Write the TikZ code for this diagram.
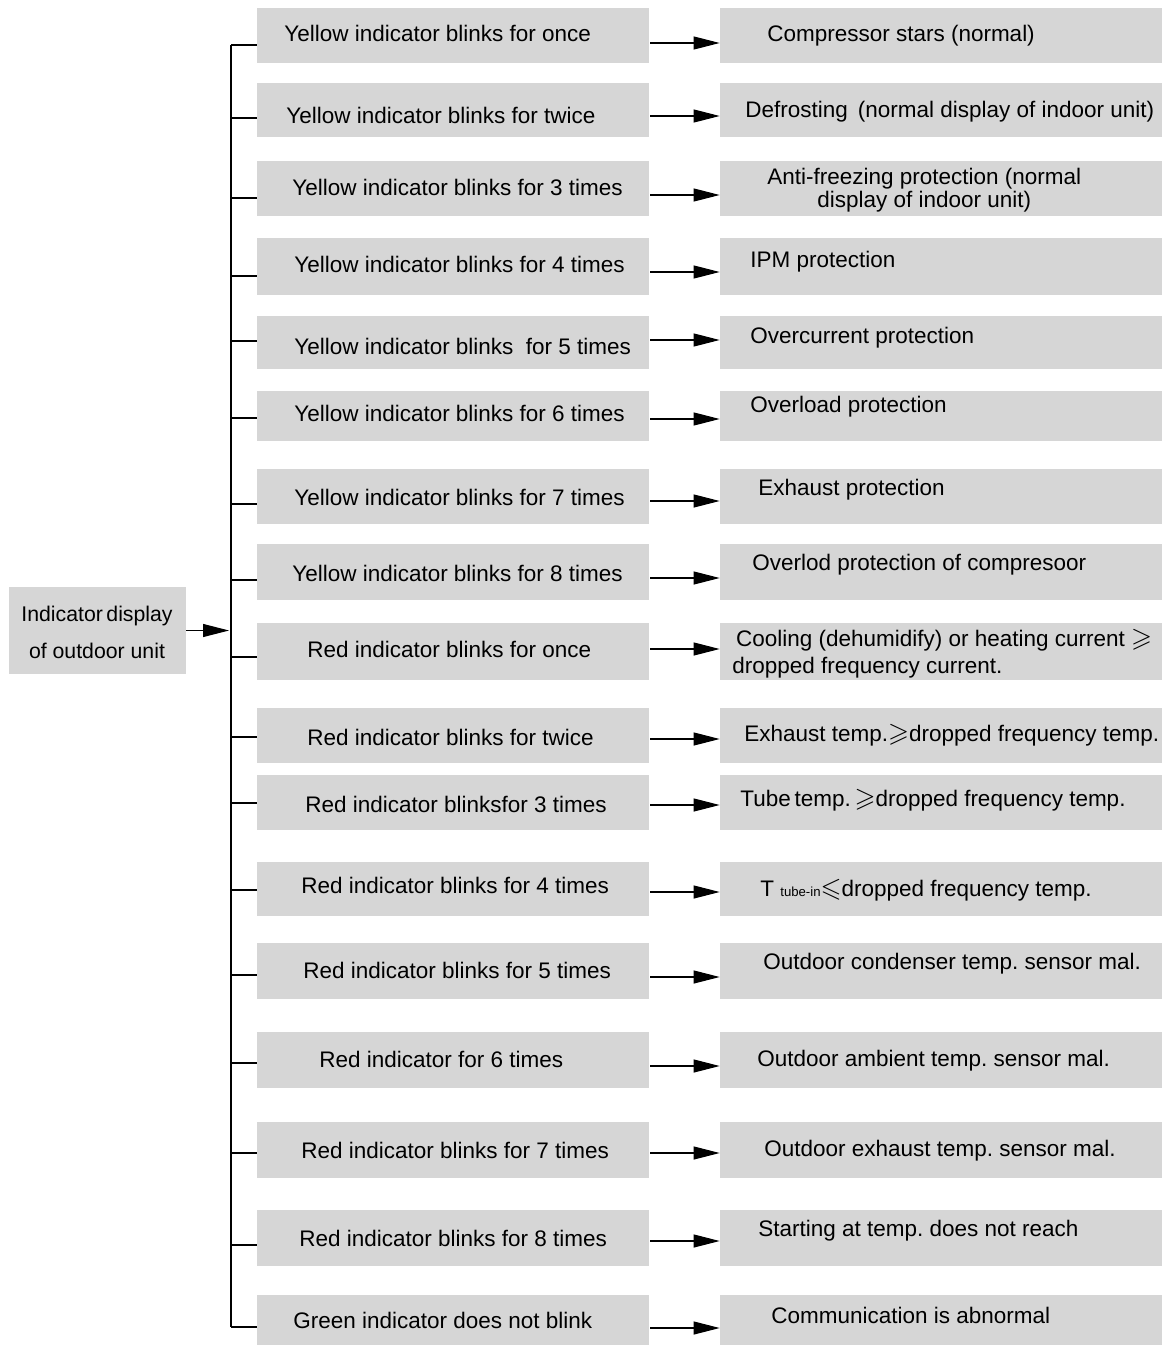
\documentclass[tikz,border=0pt]{standalone}
\usepackage{amssymb}
\usepackage{fontspec}
\setmainfont{Liberation Sans}
\usetikzlibrary{arrows.meta,fit}
\definecolor{boxgray}{RGB}{214,214,214}
\newcommand{\gesl}{\scalebox{1.2}{$\geqslant$}}
\newcommand{\lesl}{\scalebox{1.2}{$\leqslant$}}

\begin{document}
\begin{tikzpicture}[x=0.02cm, y=-0.02cm,
    box/.style={fill=boxgray, inner sep=0pt},
    txt/.style={anchor=west, inner sep=0pt, font=\fontsize{12.8}{15}\selectfont, text height=9pt, text depth=0pt},
    arr/.style={-{Triangle[length=0.52cm, width=0.26cm]}, line width=0.6pt},
    link/.style={line width=0.8pt}]
    \useasboundingbox (0,0) rectangle (1162,1345);

    % Source box on the left
    \node[box, fit={(9,587) (186,674)}] (src) {};
    \node[align=center, inner sep=0pt, font=\fontsize{12.1}{21}\selectfont] (srctext) at (97,632) {Indicator\,display\\of outdoor unit};
    \coordinate (hub) at (229,631);
    \draw[arr] (src.east) -- (src.east -| hub);

    % One row per blink code: boxes, texts, branch and arrow
    \foreach \i/\t/\b/\lx/\ly/\ltext/\rx/\ry/\rtext/\ay/\by in {
        1/8/63/284/34/{Yellow indicator blinks for once}/767/34/{Compressor stars (normal)}/43/45,
        2/83/137/286/116/{Yellow indicator blinks for twice}/745/110/{Defrosting\, (normal display of indoor unit)}/116/118,
        3/161/216/292/188/{Yellow indicator blinks for 3 times}/767/189/{\def\arraystretch{0.88}\begin{tabular}{@{}c@{}}Anti-freezing protection (normal\\display of indoor unit)\end{tabular}}/195/198,
        4/238/295/294/265/{Yellow indicator blinks for 4 times}/750/260/{IPM protection}/272/276,
        5/316/369/294/347/{Yellow indicator blinks~ for 5 times}/750/336/{Overcurrent protection}/340/341,
        6/391/441/294/414/{Yellow indicator blinks for 6 times}/750/405/{Overload protection}/419/418,
        7/469/524/294/498/{Yellow indicator blinks for 7 times}/758/488/{Exhaust protection}/501/504,
        8/544/600/292/574/{Yellow indicator blinks for 8 times}/752/563/{Overlod protection of compresoor}/578/580,
        9/623/680/307/650/{Red indicator blinks for once}/732/652/{\begin{tabular}{@{}l@{}}\,Cooling (dehumidify) or heating current \gesl\\dropped frequency current.\end{tabular}}/649/657,
        10/708/763/307/738/{Red indicator blinks for twice}/744/734/{Exhaust temp.\gesl dropped frequency temp.}/739/737,
        11/775/830/305/805/{Red indicator blinksfor 3 times}/740/799/{Tube\,temp.\,\gesl dropped frequency temp.}/805/803,
        12/862/916/301/886/{Red indicator blinks for 4 times}/760/889/{T {\fontsize{7.5}{8}\selectfont tube-in}\lesl dropped frequency temp.}/892/890,
        13/943/999/303/971/{Red indicator blinks for 5 times}/763/962/{Outdoor condenser temp.\ sensor mal.}/977/975,
        14/1032/1088/319/1060/{Red indicator for 6 times}/757/1059/{Outdoor ambient temp.\ sensor mal.}/1066/1063,
        15/1122/1178/301/1151/{Red indicator blinks for 7 times}/764/1149/{Outdoor exhaust temp.\ sensor mal.}/1153/1153,
        16/1210/1266/299/1239/{Red indicator blinks for 8 times}/758/1229/{Starting at temp.\ does not reach}/1241/1245,
        17/1295/1345/293/1321/{Green indicator does not blink}/771/1316/{Communication is abnormal}/1328/1327}
    {
        \node[box, fit={(257,\t) (649,\b)}] (l\i) {};
        \node[box, fit={(720,\t) (1162,\b)}] (r\i) {};
        \node[txt] (lt\i) at (\lx,\ly) {\ltext};
        \node[txt] (rt\i) at (\rx,\ry) {\rtext};
        \coordinate (b\i) at (231,\by);
        \coordinate (a\i) at (650,\ay);
        \draw[link] (b\i) -- (b\i -| l\i.west);
        \draw[arr] (a\i) -- (a\i -| r\i.west);
    }

    % Trunk line
    \draw[link] (b1) -- (b17);
\end{tikzpicture}
\end{document}
